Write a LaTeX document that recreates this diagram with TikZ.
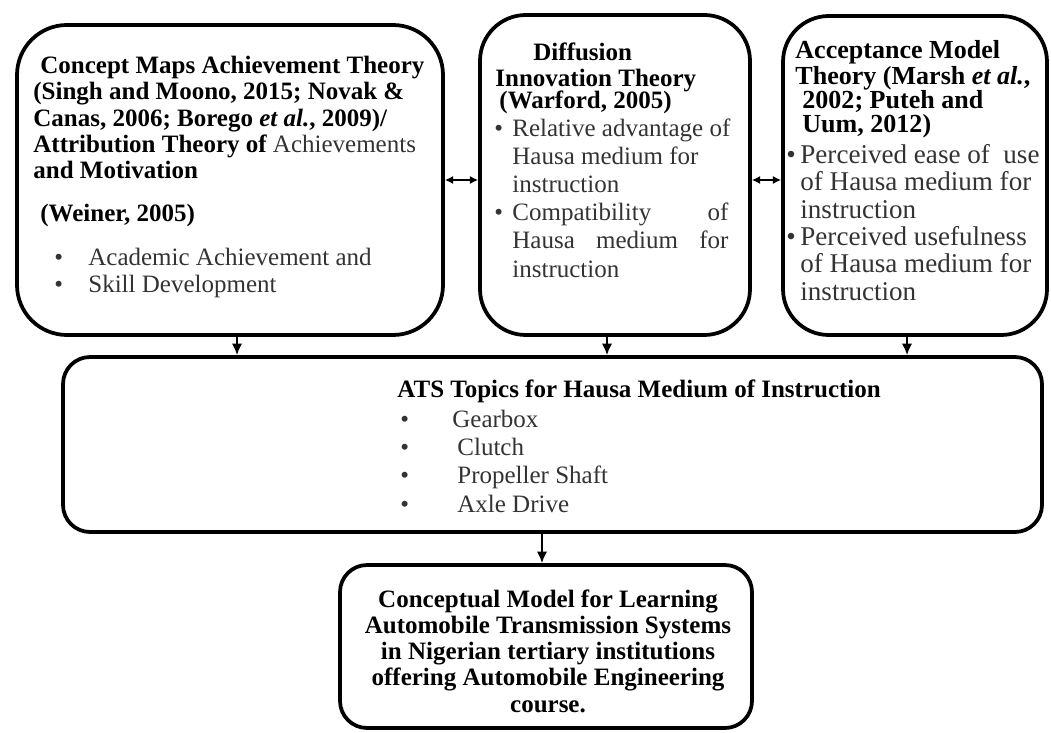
\documentclass[tikz,border=0pt]{standalone}
\usepackage{fontspec}
\setmainfont{Liberation Serif}
\usetikzlibrary{arrows.meta}
% one unit of the layout grid
\newlength\pxu
\setlength\pxu{0.48pt}
% bullet followed by a fixed gap, and a plain indent
\newcommand\bul[1]{\makebox[#1\pxu][l]{\textbullet}}
\newcommand\ind[1]{\hspace*{#1\pxu}}
\begin{document}
\begin{tikzpicture}[x=0.48pt,y=-0.48pt,
  box/.style={draw=black, line width=1.8pt, inner sep=0pt, rounded corners=#1},
  head/.style={inner sep=0pt, anchor=base west, align=left, text=black,
               font=\bfseries\fontsize{12}{12.7}\selectfont},
  body/.style={inner sep=0pt, anchor=base west, align=left, text=black!80,
               font=\fontsize{12}{13.5}\selectfont},
  link/.style={line width=1pt, -{Latex[length=5.5pt,width=5pt]}},
  dlink/.style={line width=1pt, {Latex[length=4pt,width=4pt]}-{Latex[length=4pt,width=4pt]}}]
\useasboundingbox (0,0) rectangle (1051,733);

% frames
\node[box=24pt, minimum width=426\pxu, minimum height=310\pxu] (concept) at (230,180) {};
\node[box=22pt, minimum width=270\pxu, minimum height=320\pxu] (diffusion) at (615,175) {};
\node[box=22pt, minimum width=264\pxu, minimum height=319\pxu] (acceptance) at (915,175.5) {};
\node[box=13pt, minimum width=979\pxu, minimum height=175\pxu] (topics) at (552.5,444.5) {};
\node[box=13pt, minimum width=412\pxu, minimum height=163\pxu] (model) at (546,646.5) {};

% links between the theories
\draw[dlink] (concept.east) -- (concept.east -| diffusion.west);
\draw[dlink] (diffusion.east |- concept.east) -- (acceptance.west |- concept.east);

% links into the topics and into the model
\coordinate (s1) at ([xshift=7\pxu]concept.south);
\coordinate (s2) at ([xshift=-8\pxu]diffusion.south);
\coordinate (s3) at ([xshift=-8\pxu]acceptance.south);
\coordinate (s4) at ([xshift=-4\pxu]model.north);
\draw[link] (s1) -- (s1 |- topics.north);
\draw[link] (s2) -- (s2 |- topics.north);
\draw[link] (s3) -- (s3 |- topics.north);
\draw[link] (s4 |- topics.south) -- (s4);

% concept maps / attribution theory (placed by the baseline of the last line)
\node[head] (conceptHead) at (33,179) {\ind{7}Concept Maps Achievement Theory\\
  (Singh and Moono, 2015; Novak \&\\
  Canas, 2006; Borego \textit{et al.}, 2009)/\\
  Attribution Theory of {\mdseries\color{black!80} Achievements}\\
  and Motivation};
\node[head] (conceptRef) at (40,222) {(Weiner, 2005)};
\node[body, font=\fontsize{12}{13.4}\selectfont] (conceptList) at (54,293)
  {\bul{34}Academic Achievement and\\ \bul{34}Skill Development};

% diffusion of innovation
\node[head] (diffusionHead) at (495,109) {\ind{38}Diffusion\\
  Innovation Theory\\[-2pt]\ind{4}(Warford, 2005)};
\node[body] (diffusionList) at (494,277) {\bul{18}Relative advantage of\\
  \ind{18}Hausa medium for\\
  \ind{18}instruction\\
  \bul{18}\makebox[216\pxu][s]{Compatibility of}\\
  \ind{18}\makebox[216\pxu][s]{Hausa medium for}\\
  \ind{18}instruction};

% technology acceptance
\node[head, font=\bfseries\fontsize{12.5}{11.6}\selectfont] (acceptanceHead) at (795,133)
  {Acceptance Model\\[1pt]Theory (Marsh \textit{et al.},\\
  \ind{7}2002; Puteh and\\
  \ind{7}Uum, 2012)};
\node[body, font=\fontsize{13}{13.1}\selectfont] (acceptanceList) at (786,300)
  {\bul{14}Perceived ease of\ \ use\\
  \ind{14}of Hausa medium for\\
  \ind{14}instruction\\
  \bul{14}Perceived usefulness\\
  \ind{14}of Hausa medium for\\
  \ind{14}instruction};

% topics
\node[head] (topicsHead) at (397,397) {ATS Topics for Hausa Medium of Instruction};
\node[body, font=\fontsize{12}{13.6}\selectfont] (topicsList) at (400,512)
  {\bul{52}Gearbox\\ \bul{57}Clutch\\ \bul{57}Propeller Shaft\\ \bul{57}Axle Drive};

% resulting model
\node[head, anchor=base, align=center, font=\bfseries\fontsize{12}{12.6}\selectfont] (modelText) at (548,712)
  {Conceptual Model for Learning\\
  Automobile Transmission Systems\\
  in Nigerian tertiary institutions\\
  offering Automobile Engineering\\
  course.};
\end{tikzpicture}
\end{document}
